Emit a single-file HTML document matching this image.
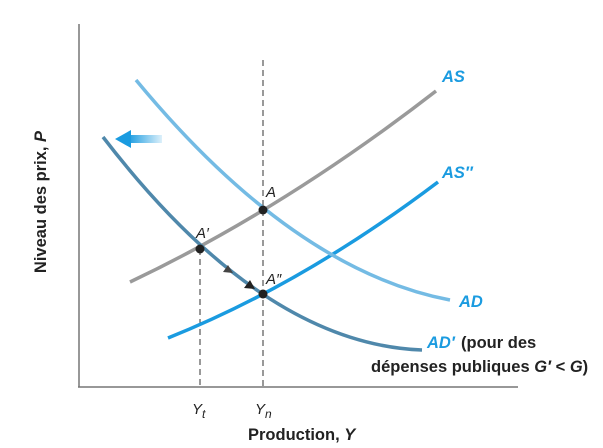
<!DOCTYPE html>
<html><head><meta charset="utf-8"><style>
html,body{margin:0;padding:0;background:#fff;}
svg{display:block;font-family:"Liberation Sans",sans-serif;}
</style></head><body>
<svg width="603" height="448" viewBox="0 0 603 448" xmlns="http://www.w3.org/2000/svg">
<defs>
<linearGradient id="g" x1="0" x2="1" y1="0" y2="0">
<stop offset="0" stop-color="#1a9be0"/><stop offset="1" stop-color="#1a9be0" stop-opacity="0.15"/>
</linearGradient>
</defs>
<line x1="79" y1="24" x2="79" y2="387" stroke="#777" stroke-width="1.5"/>
<line x1="78" y1="387" x2="518" y2="387" stroke="#777" stroke-width="1.5"/>
<line x1="200" y1="249" x2="200" y2="387" stroke="#333" stroke-width="1" stroke-dasharray="6,4"/>
<line x1="263" y1="60" x2="263" y2="387" stroke="#333" stroke-width="1" stroke-dasharray="6,4"/>
<path d="M130,282 Q283,209.5 436,91" fill="none" stroke="#9a9a9a" stroke-width="3.5"/>
<path d="M168,338 Q303,284 438,182" fill="none" stroke="#1a9be0" stroke-width="3.5"/>
<path d="M136,80 Q293,270 450,300" fill="none" stroke="#74bbe4" stroke-width="3.5"/>
<path d="M103,137 Q262,344 422,350" fill="none" stroke="#4f88ab" stroke-width="3.5"/>
<rect x="128" y="135" width="34" height="8" fill="url(#g)"/>
<polygon points="115,139 131,130 131,148" fill="#1a9be0"/>
<polygon points="233,273 223,272 228,265" fill="#444"/>
<polygon points="255,289 244,288 250,280" fill="#222"/>
<circle cx="263" cy="210" r="4.5" fill="#222"/>
<circle cx="200" cy="249" r="4.5" fill="#222"/>
<circle cx="263" cy="294" r="4.5" fill="#222"/>
<g font-style="italic" font-size="15" fill="#222">
<text x="266" y="197">A</text>
<text x="196" y="238">A′</text>
<text x="266" y="284">A″</text>
<text x="192" y="414">Y<tspan font-size="12" dy="4">t</tspan></text>
<text x="255" y="414">Y<tspan font-size="12" dy="4">n</tspan></text>
</g>
<g font-style="italic" font-weight="bold" font-size="16.5" fill="#1a9be0">
<text x="442" y="82">AS</text>
<text x="442" y="178">AS″</text>
<text x="459" y="307">AD</text>
<text x="427" y="348">AD′</text>
</g>
<g font-weight="bold" font-size="16.5" fill="#222">
<text x="461" y="348">(pour des</text>
<text x="371" y="372">dépenses publiques <tspan font-style="italic">G′</tspan> &lt; <tspan font-style="italic">G</tspan>)</text>
<text x="248" y="440">Production, <tspan font-style="italic">Y</tspan></text>
<text transform="translate(46,202) rotate(-90)" text-anchor="middle">Niveau des prix, <tspan font-style="italic">P</tspan></text>
</g>
</svg>
</body></html>
